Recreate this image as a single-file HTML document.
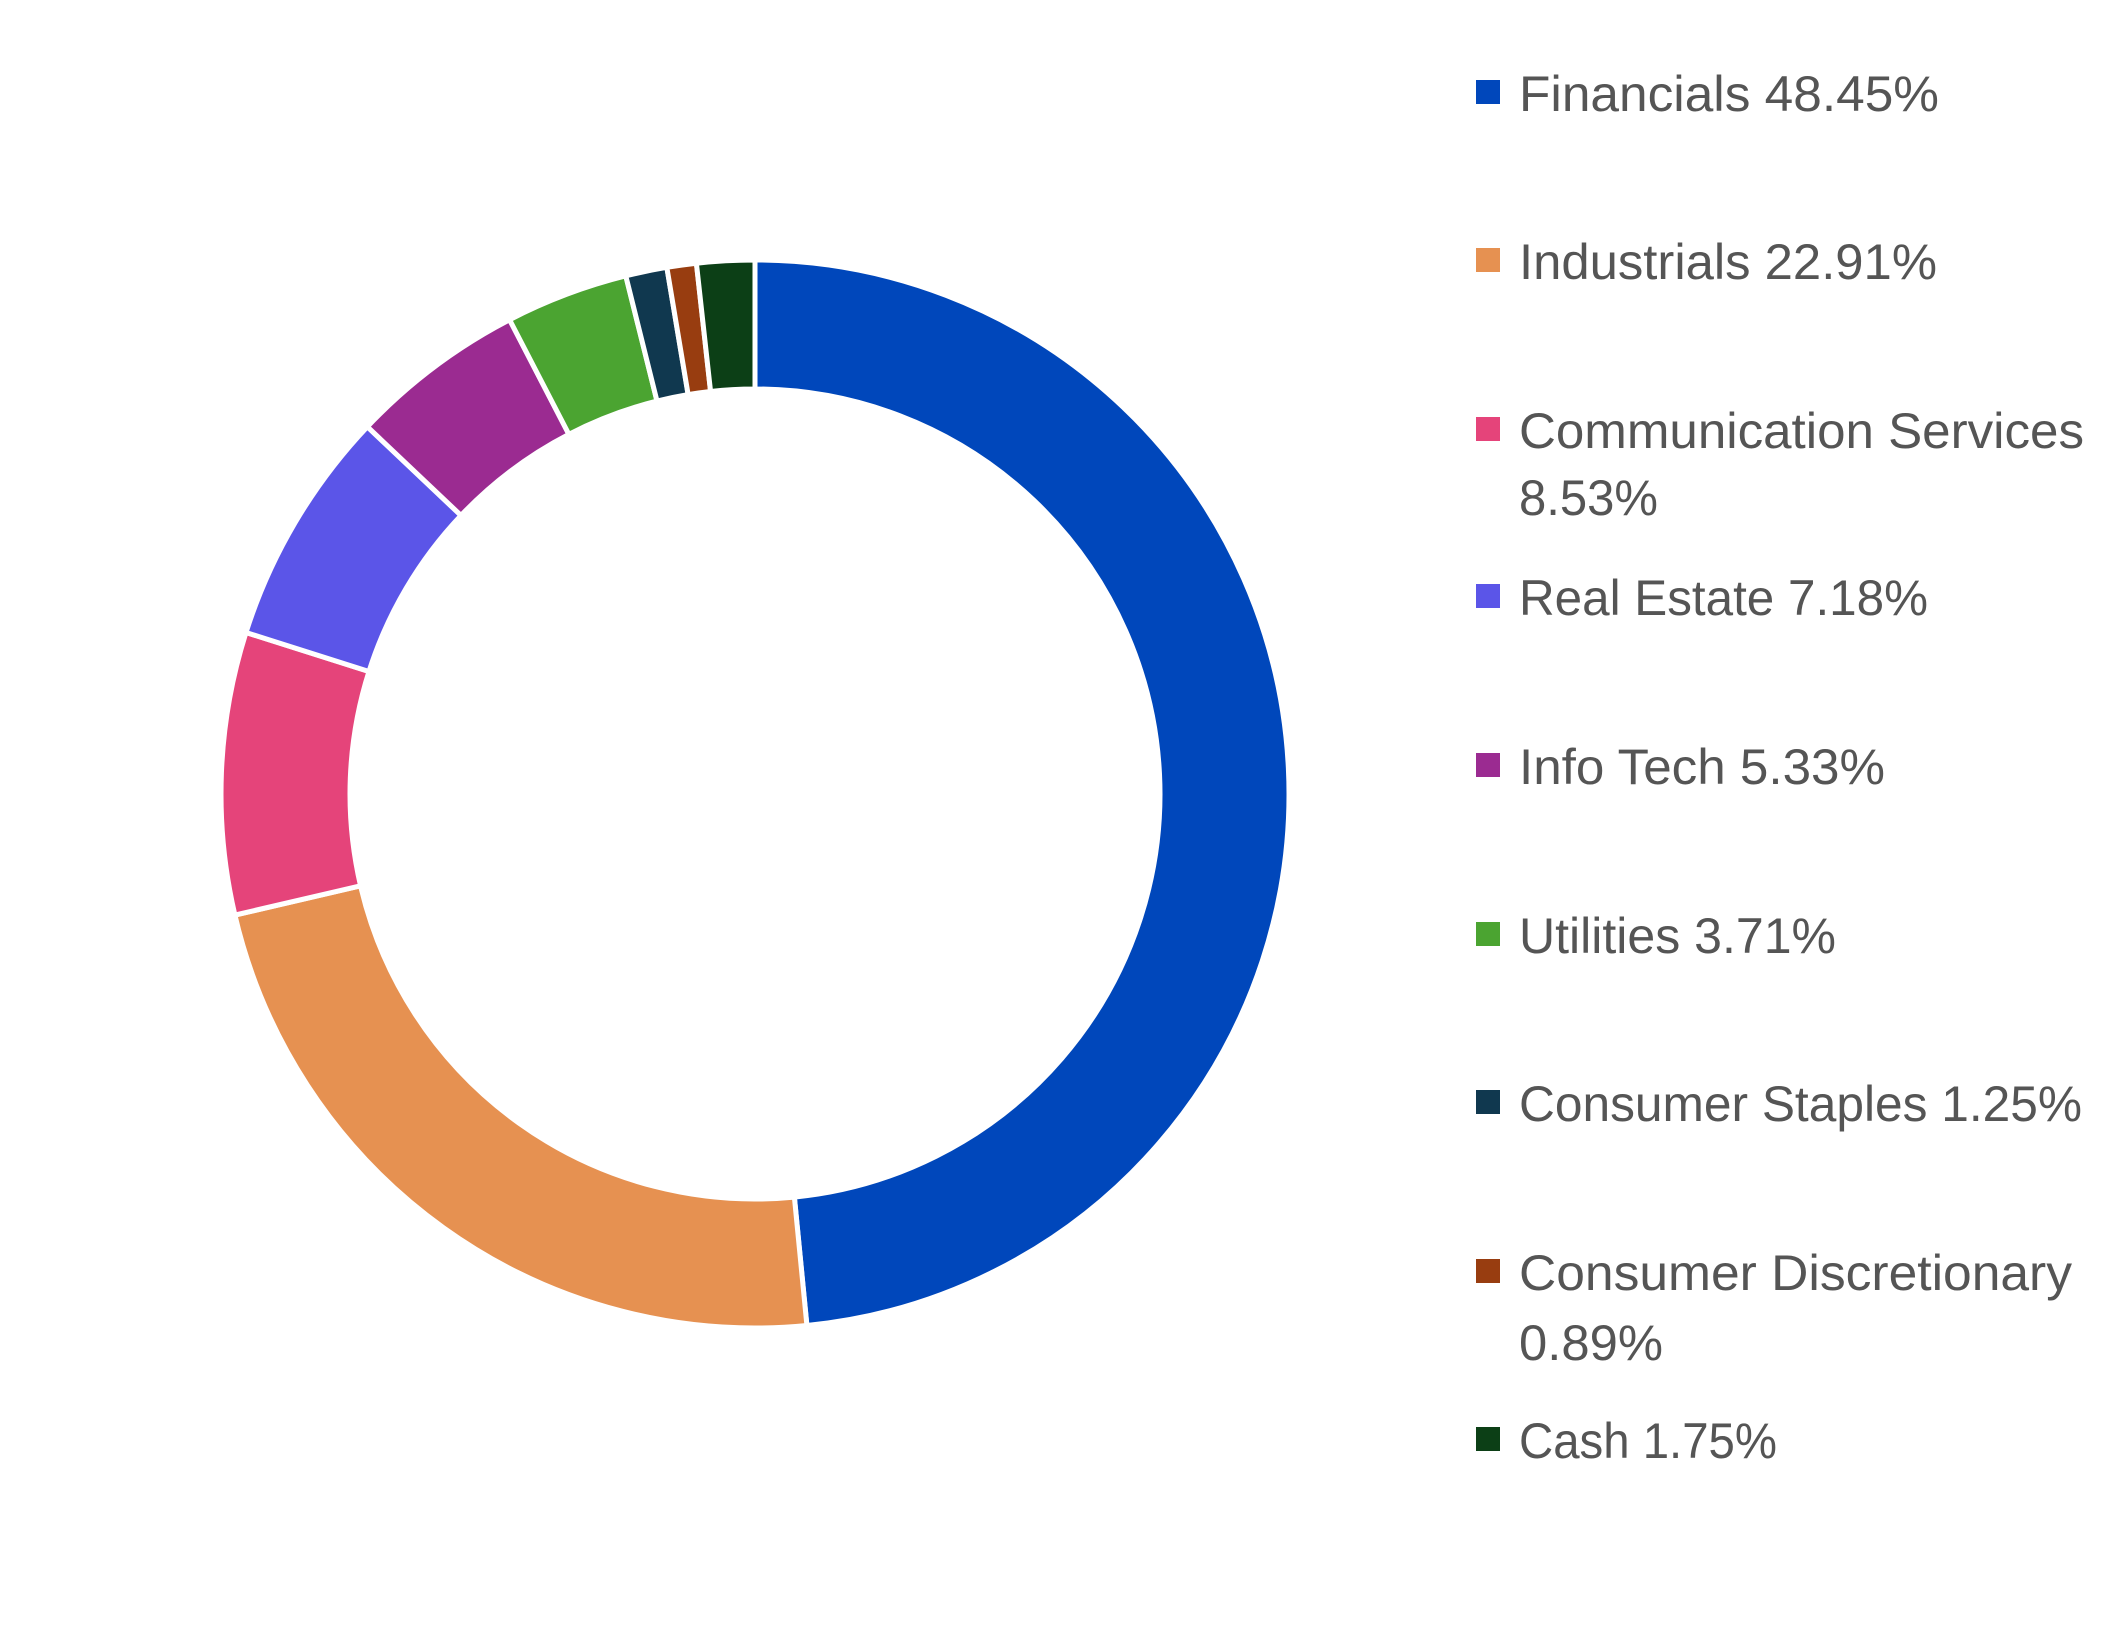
<!DOCTYPE html>
<html><head><meta charset="utf-8"><style>
html,body{margin:0;padding:0;background:#fff;}
svg{display:block;}
text{font-family:"Liberation Sans",sans-serif;font-size:50px;fill:#555;}
</style></head><body>
<svg id="s" width="2115" height="1633" viewBox="0 0 2115 1633" xmlns="http://www.w3.org/2000/svg">
<g id="d"></g>
<rect x="1476" y="80" width="24" height="24" fill="#0047BB"/>
<text x="1519" y="111" textLength="420" lengthAdjust="spacingAndGlyphs">Financials 48.45%</text>
<rect x="1476" y="248" width="24" height="24" fill="#E69151"/>
<text x="1519" y="279" textLength="418" lengthAdjust="spacingAndGlyphs">Industrials 22.91%</text>
<rect x="1476" y="417" width="24" height="24" fill="#E5447A"/>
<text x="1519" y="448" textLength="565" lengthAdjust="spacingAndGlyphs">Communication Services</text>
<text x="1519" y="515" textLength="139" lengthAdjust="spacingAndGlyphs">8.53%</text>
<rect x="1476" y="584" width="24" height="24" fill="#5B55E8"/>
<text x="1519" y="615" textLength="409" lengthAdjust="spacingAndGlyphs">Real Estate 7.18%</text>
<rect x="1476" y="753" width="24" height="24" fill="#9B2B91"/>
<text x="1519" y="784" textLength="366" lengthAdjust="spacingAndGlyphs">Info Tech 5.33%</text>
<rect x="1476" y="922" width="24" height="24" fill="#4BA431"/>
<text x="1519" y="953" textLength="317" lengthAdjust="spacingAndGlyphs">Utilities 3.71%</text>
<rect x="1476" y="1090" width="24" height="24" fill="#10384F"/>
<text x="1519" y="1121" textLength="563" lengthAdjust="spacingAndGlyphs">Consumer Staples 1.25%</text>
<rect x="1476" y="1259" width="24" height="24" fill="#983D10"/>
<text x="1519" y="1290" textLength="553" lengthAdjust="spacingAndGlyphs">Consumer Discretionary</text>
<text x="1519" y="1360" textLength="144" lengthAdjust="spacingAndGlyphs">0.89%</text>
<rect x="1476" y="1427" width="24" height="24" fill="#0C3F16"/>
<text x="1519" y="1458" textLength="258" lengthAdjust="spacingAndGlyphs">Cash 1.75%</text>
</svg>
<script>
var v=[48.45,22.91,8.53,7.18,5.33,3.71,1.25,0.89,1.75];
var c=["#0047BB","#E69151","#E5447A","#5B55E8","#9B2B91","#4BA431","#10384F","#983D10","#0C3F16"];
var cx=755,cy=794,R=534,r=405,a=0,g=document.getElementById('d'),h='';
function p(rad,ang){var t=ang/100*2*Math.PI;return (cx+rad*Math.sin(t)).toFixed(2)+' '+(cy-rad*Math.cos(t)).toFixed(2);}
for(var i=0;i<v.length;i++){var b=a+v[i],l=v[i]>50?1:0;
h+='<path d="M'+p(R,a)+' A'+R+' '+R+' 0 '+l+' 1 '+p(R,b)+' L'+p(r,b)+' A'+r+' '+r+' 0 '+l+' 0 '+p(r,a)+' Z" fill="'+c[i]+'" stroke="#fff" stroke-width="5" stroke-linejoin="miter"/>';a=b;}
g.innerHTML=h;
</script>
</body></html>
